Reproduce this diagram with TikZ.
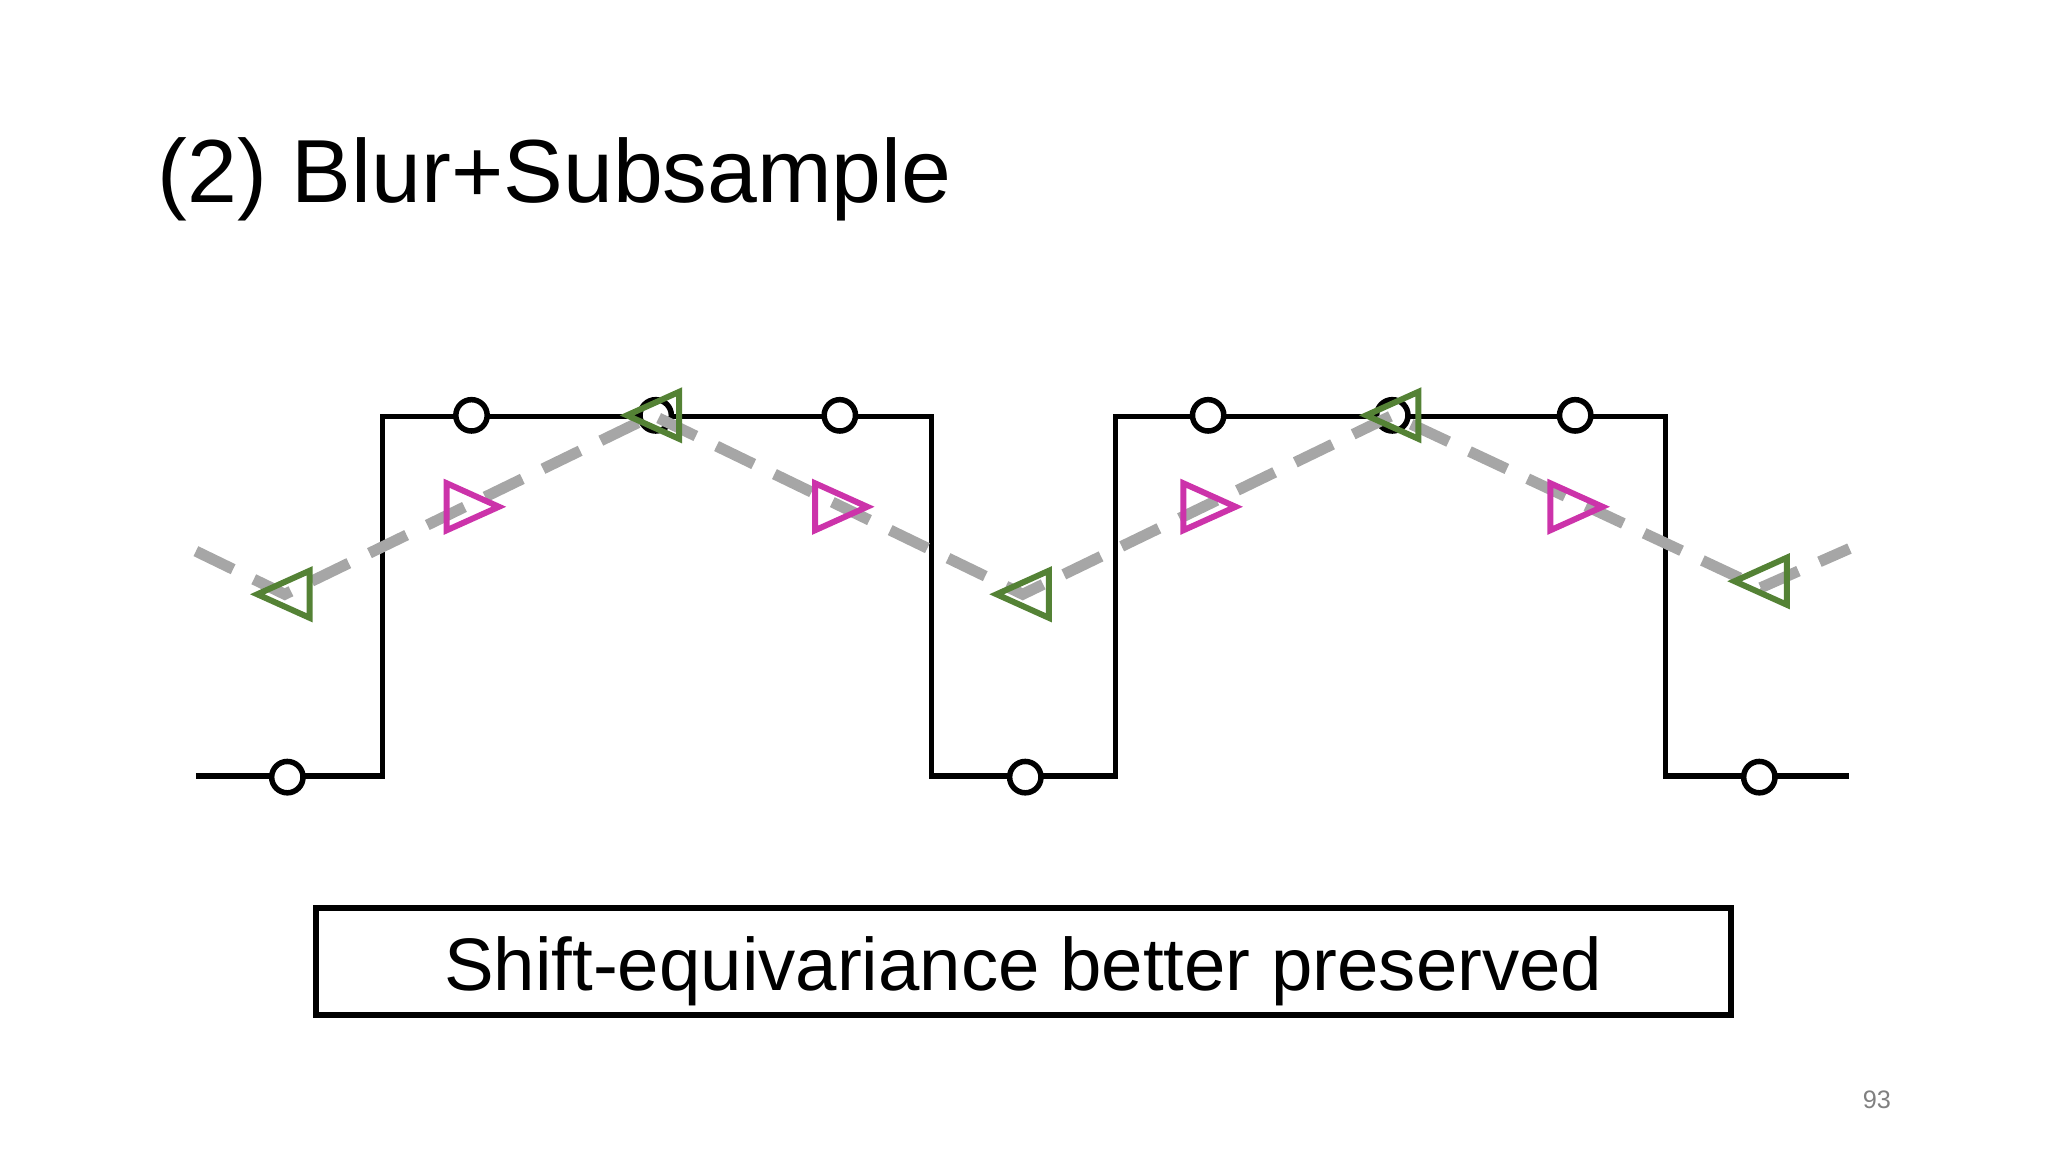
\documentclass[tikz,border=0pt]{standalone}
\usepackage{fontspec}
\setmainfont{Liberation Sans}
\definecolor{gtr}{HTML}{548235}
\definecolor{mtr}{HTML}{CC33AA}
\begin{document}
\begin{tikzpicture}[x=0.01cm,y=-0.01cm,
  wave/.style={black,line width=1.2pt},
  samp/.style={circle,draw=black,fill=white,line width=1.2pt,minimum size=0.24cm,inner sep=0pt},
  blur/.style={gray!70,line width=2.4pt,dash pattern=on 9pt off 5pt},
  gtri/.style={draw=gtr,line width=1.3pt,fill=none},
  mtri/.style={draw=mtr,line width=1.3pt,fill=none}]
\useasboundingbox (0,0) rectangle (1568,882);
\node[anchor=base west,inner sep=0pt,font=\fontsize{19.5pt}{24pt}\selectfont] (title) at (120,155) {(2) Blur+Subsample};
\draw[wave] (150,594) -- (293,594) -- (293,319) -- (713,319) -- (713,594) -- (854,594) -- (854,319) -- (1275,319) -- (1275,594) -- (1416,594);
\foreach \n/\x/\y in {a/220/595,b/361/318,c/502/318,d/643/318,e/785/595,f/925/318,g/1066/318,h/1206/318,i/1347/595}
  \node[samp] (\n) at (\x,\y) {};
\draw[blur] (150,422) -- (218,455) -- (500,318) -- (783,455) -- (1066,318) -- (1348,450) -- (1416,420);
\foreach \x/\y in {217/455,500/318,783/455,1066/318,1348/445}
  \draw[gtri] (\x-20,\y) -- (\x+20,\y-18) -- (\x+20,\y+18) -- cycle;
\foreach \x in {361,643,925,1206}
  \draw[mtri] (\x+21,388) -- (\x-19,370) -- (\x-19,406) -- cycle;
\node[draw,line width=1.3pt,minimum width=10.83cm,minimum height=0.82cm,inner sep=0pt] (box) at (783.5,736) {};
\node[anchor=base,inner sep=0pt,font=\fontsize{16.2pt}{20pt}\selectfont] (boxtext) at (783.5,758) {Shift-equivariance better preserved};
\node[text=gray,font=\fontsize{5.5pt}{7pt}\selectfont] (pg) at (1437,842) {93};
\end{tikzpicture}
\end{document}
